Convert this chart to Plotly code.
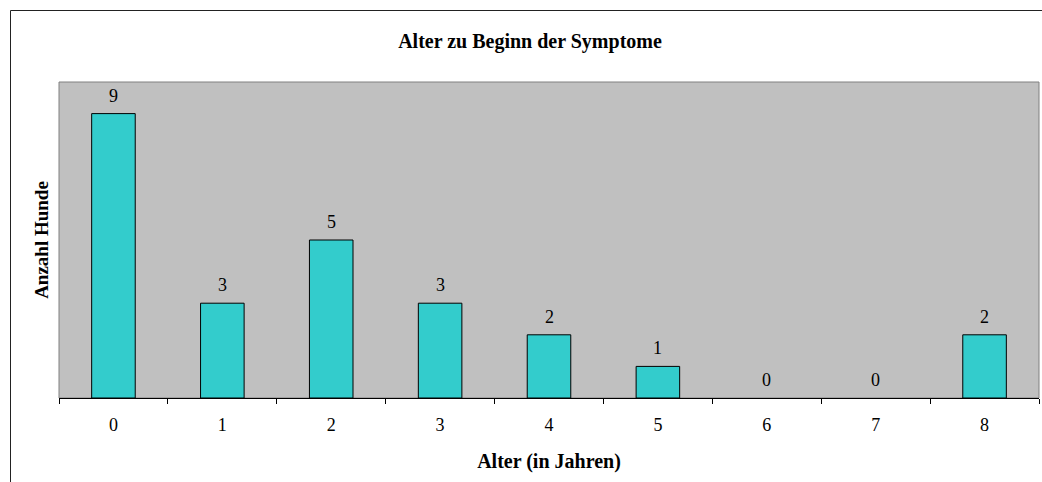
import plotly.graph_objects as go

categories = ["0", "1", "2", "3", "4", "5", "6", "7", "8"]
counts = [9, 3, 5, 3, 2, 1, 0, 0, 2]
title_text = "Alter zu Beginn der Symptome"
x_title = "Alter (in Jahren)"
y_title = "Anzahl Hunde"

W, H = 1042, 482
L, R, T, B = 59, 3, 82, 84
pw, ph = W - L - R, H - T - B

font_family = "Liberation Serif, Times New Roman, serif"

fig = go.Figure()
fig.add_trace(go.Bar(
    x=categories, y=counts, width=0.4,
    marker=dict(color="#33CCCC",
                line=dict(color="black", width=[1 if v > 0 else 0 for v in counts])),
    hoverinfo="x+y",
))

for c, v in zip(categories, counts):
    fig.add_annotation(x=c, y=v, text=str(v), showarrow=False,
                       yanchor="middle", yshift=18,
                       font=dict(family=font_family, size=18, color="black"))

# plot-area border (gray)
fig.add_shape(type="rect", xref="paper", yref="paper", x0=0, x1=1, y0=0, y1=1,
              line=dict(color="#808080", width=1), layer="below")
# outer chart frame
fig.add_shape(type="rect", xref="paper", yref="paper",
              x0=(10.5 - L) / pw, x1=1.2, y0=-0.6, y1=(H - B - 10.5) / ph,
              line=dict(color="#222222", width=1), fillcolor="rgba(0,0,0,0)")

fig.update_layout(
    width=W, height=H,
    margin=dict(l=L, r=R, t=T, b=B),
    paper_bgcolor="white", plot_bgcolor="#C0C0C0",
    font=dict(family=font_family, color="black"),
    showlegend=False,
    title=dict(text="<b>" + title_text + "</b>", x=530 / W, xref="container", xanchor="center",
               y=1 - 41 / H, yanchor="middle", font=dict(size=20)),
    bargap=0.6,
)
fig.update_xaxes(
    type="category", tickson="boundaries", ticks="outside", ticklen=5,
    tickcolor="black", showline=True, linecolor="black", linewidth=1,
    showgrid=False, zeroline=False, tickfont=dict(size=18),
    title=dict(text="<b>" + x_title + "</b>", font=dict(size=20), standoff=20),
    ticklabelstandoff=10,
)
fig.update_yaxes(
    range=[0, 10], showticklabels=False, ticks="", showgrid=False, zeroline=False,
    showline=False,
    title=dict(text="<b>" + y_title + "</b>", font=dict(size=19), standoff=4),
)

fig.write_html("out.html", config={"displayModeBar": False},
               post_script="document.body.style.margin='0';document.body.style.overflow='hidden';")
